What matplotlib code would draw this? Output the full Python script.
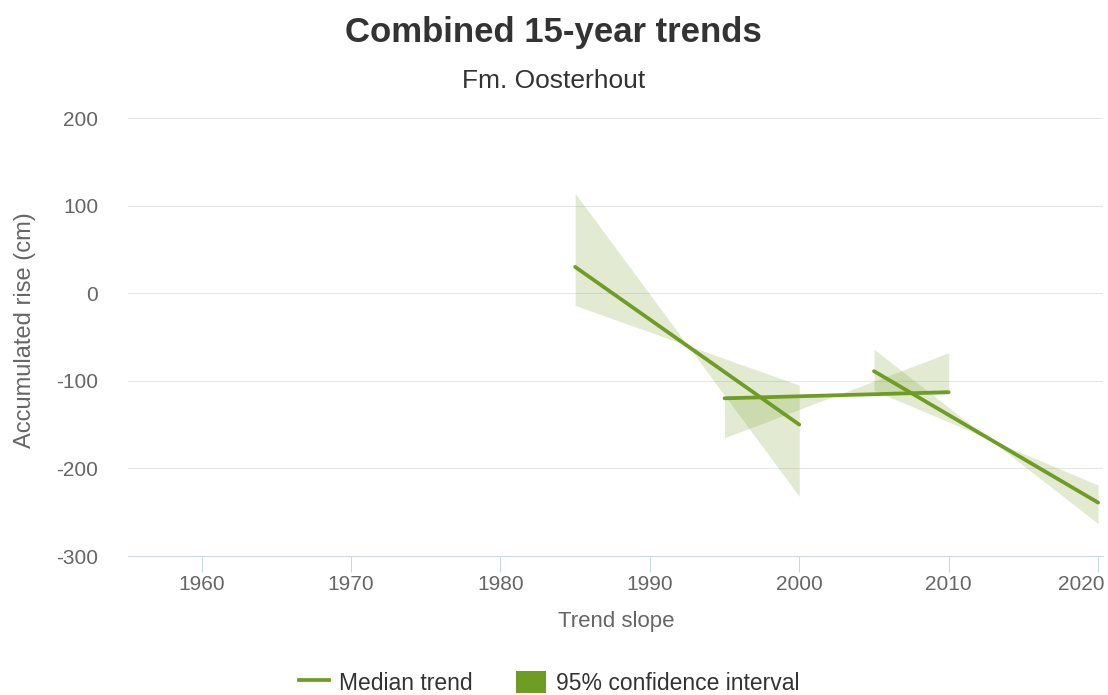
import matplotlib
matplotlib.use("Agg")
import matplotlib.pyplot as plt
from matplotlib.lines import Line2D
from matplotlib.patches import Patch
from matplotlib.transforms import ScaledTranslation

plt.rcParams['font.family'] = ['Liberation Sans', 'DejaVu Sans']
plt.rcParams['axes.unicode_minus'] = False

# ---- text ----
title = "Combined 15-year trends"
subtitle = "Fm. Oosterhout"
x_label = "Trend slope"
y_label = "Accumulated rise (cm)"
legend_labels = ["Median trend", "95% confidence interval"]

# ---- data ----
trend_start = [1985, 1995, 2005]
trend_end = [2000, 2010, 2020]
median_start = [30, -120, -89]
median_end = [-150, -113, -239]
# confidence band edges (bow-tie shaped bands)
ci_edge_a_start = [114, -165, -64]
ci_edge_a_end = [-232, -68, -263]
ci_edge_b_start = [-14, -117, -111]
ci_edge_b_end = [-105, -115, -219]

x_ticks = [1960, 1970, 1980, 1990, 2000, 2010, 2020]
y_ticks = [-300, -200, -100, 0, 100, 200]

green = '#6f9c22'

W, H = 1108, 695
fig = plt.figure(figsize=(W / 100, H / 100), dpi=100)
ax = fig.add_axes([128.3 / W, 1 - 556 / H, (1103 - 128.3) / W, (556 - 118) / H])

for s, e, a0, a1, b0, b1 in zip(trend_start, trend_end, ci_edge_a_start, ci_edge_a_end,
                                ci_edge_b_start, ci_edge_b_end):
    ax.fill_between([s, e], [a0, a1], [b0, b1], color=green, alpha=0.2, lw=0, zorder=2)

for s, e, m0, m1 in zip(trend_start, trend_end, median_start, median_end):
    ax.plot([s, e], [m0, m1], color=green, lw=2.7, solid_capstyle='round', zorder=3)

ax.set_xlim(1955.09, 2020.33)
ax.set_ylim(-300, 200)
ax.set_xticks(x_ticks)
ax.set_xticklabels([str(v) for v in x_ticks])
ax.set_yticks(y_ticks)
ax.set_yticklabels([str(v) for v in y_ticks])

ax.grid(axis='y', color='#e6e6e6', lw=0.75)
ax.set_axisbelow(True)
for sp in ['top', 'right', 'left']:
    ax.spines[sp].set_visible(False)
ax.spines['bottom'].set_color('#ccd6eb')
ax.spines['bottom'].set_linewidth(0.75)
ax.spines['bottom'].set_zorder(1.5)

ax.tick_params(axis='x', length=11.5, width=0.75, color='#ccd6eb', labelsize=15,
               labelcolor='#666666', pad=2)
ax.tick_params(axis='y', length=0, pad=21.6, labelsize=15, labelcolor='#666666')

# keep the last x label inside the figure (justified like the reference)
last = ax.get_xticklabels()[-1]
last.set_horizontalalignment('right')
last.set_transform(last.get_transform() + ScaledTranslation(6 / 100, 0, fig.dpi_scale_trans))

fig.text(25.5 / W, 1 - 330 / H, y_label, rotation=90, ha='center', va='center',
         fontsize=17, color='#666666')
fig.text(616.7 / W, 1 - 626.7 / H, x_label, ha='center', va='baseline',
         fontsize=16, color='#666666')
fig.text(553.3 / W, 1 - 42.3 / H, title, ha='center', va='baseline',
         fontsize=25, fontweight='bold', color='#333333')
fig.text(554 / W, 1 - 88.3 / H, subtitle, ha='center', va='baseline',
         fontsize=19, color='#333333')

handles = [Line2D([0], [0], color=green, lw=2.7),
           Patch(facecolor=green, edgecolor='none')]
fig.legend(handles, legend_labels, loc='center', bbox_to_anchor=(549.5 / W, 1 - 683 / H),
           ncol=2, frameon=False, fontsize=16.5, handlelength=1.3, handleheight=1.05,
           handletextpad=0.45, columnspacing=1.9, labelcolor='#333333', borderpad=0)

fig.savefig('out.png', dpi=100)
